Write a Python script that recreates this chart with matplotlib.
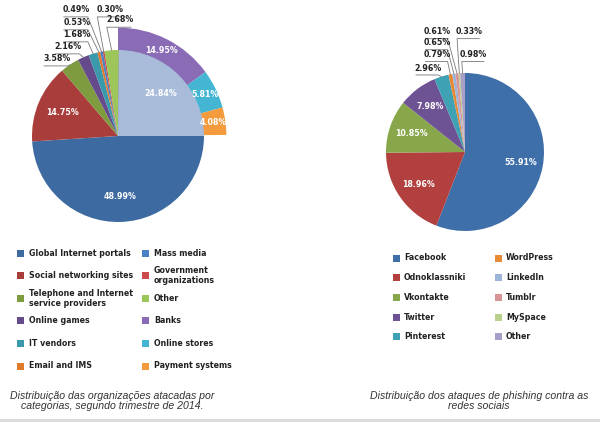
import numpy as np
import matplotlib.pyplot as plt
from matplotlib import font_manager
from matplotlib.patches import Rectangle

# left chart: attacked organizations by category
org_labels = ['Global Internet portals', 'Social networking sites',
              'Telephone and Internet\nservice providers', 'Online games',
              'IT vendors', 'Email and IMS', 'Mass media',
              'Government\norganizations', 'Other', 'Banks',
              'Online stores', 'Payment systems']
org_main = [48.99, 14.75, 3.58, 2.16, 1.68, 0.53, 0.49, 0.30, 2.68, 24.84]
org_outer = [14.95, 5.81, 4.08]
org_colors = ['#3d6aa1', '#a83d3b', '#7f9b40', '#654b8c', '#3a9aac', '#e07a2b',
              '#4a80c4', '#c94b4b', '#9cc55a', '#8a6cb6', '#44b5d2', '#f39b3d']
sum_color = '#a8bcda'

# right chart: phishing on social networks
soc_labels = ['Facebook', 'Odnoklassniki', 'Vkontakte', 'Twitter', 'Pinterest',
              'WordPress', 'LinkedIn', 'Tumblr', 'MySpace', 'Other']
soc_values = [55.91, 18.96, 10.85, 7.98, 2.96, 0.79, 0.65, 0.61, 0.33, 0.98]
soc_colors = ['#3f6fa8', '#b1403e', '#88a64a', '#6d5294', '#3fa1b4',
              '#e68a36', '#9cb4da', '#d89598', '#b9d18d', '#a89fc9']

caption_left = 'Distribuição das organizações atacadas por\ncategorias, segundo trimestre de 2014.'
caption_right = 'Distribuição dos ataques de phishing contra as\nredes sociais'

# pick a narrow font if one is around
fonts = font_manager.fontManager.ttflist
names = {f.name for f in fonts}
stretch = 'normal'
if 'Liberation Sans Narrow' in names:
    narrow, fs = 'Liberation Sans Narrow', 7
elif any(f.name == 'DejaVu Sans' and 'condensed' in str(f.stretch) for f in fonts):
    narrow, fs, stretch = 'DejaVu Sans', 6.3, 'condensed'
else:
    narrow, fs = 'Liberation Sans', 6.2

fig = plt.figure(figsize=(6, 4.22), dpi=100)
W, H = 600, 422


def fx(x):
    return x / W


def fy(y):
    return 1 - y / H


def pct_fmt(total):
    # show the printed value, not the renormalised share
    return lambda p: f'{p * total / 100:.2f}%'


def pie_axes(cx, cy, hw, hh):
    ax = fig.add_axes([fx(cx - hw), fy(cy + hh), 2 * hw / W, 2 * hh / H])
    ax.axis('off')
    return ax


def fix_limits(ax, r, hw, hh):
    # pie() resets the limits, so set them afterwards
    ax.set_xlim(-hw / r, hw / r)
    ax.set_ylim(-hh / r, hh / r)
    ax.set_aspect('equal')


def small_labels(ax, wedges, idx, pos, vals):
    for i, (tx, ty) in zip(idx, pos):
        w = wedges[i]
        mid = np.deg2rad((w.theta1 + w.theta2) / 2)
        px, py = np.cos(mid) * w.r, np.sin(mid) * w.r
        ax.text(tx, ty, f'{vals[i]:.2f}%', ha='center', va='center',
                fontsize=fs, fontweight='bold', color='#222222', family=narrow,
                fontstretch=stretch)
        uy = ty - 0.085
        x0, x1 = tx - 0.15, tx + 0.13
        if px > tx:
            ax.plot([x0, x1, px], [uy, uy, py], color='#777777', lw=0.6)
        else:
            ax.plot([x1, x0, px], [uy, uy, py], color='#777777', lw=0.6)


inner_txt = dict(color='white', fontsize=fs, fontweight='bold', family=narrow,
                 fontstretch=stretch)

# ---- left pie
ax1 = pie_axes(118, 136, 118, 136)
ax1.pie(np.array(org_outer) / 100, normalize=False, startangle=90,
        counterclock=False, radius=1.26, colors=org_colors[9:],
        autopct='%.2f%%', pctdistance=0.89, textprops=inner_txt)
w1, _, t1 = ax1.pie(org_main, startangle=0, counterclock=False, radius=1.0,
                    colors=org_colors[:9] + [sum_color],
                    autopct=pct_fmt(sum(org_main)), pctdistance=0.7,
                    textprops=inner_txt)
for i, t in enumerate(t1):
    if i not in (0, 1, 9):
        t.set_visible(False)
fix_limits(ax1, 86, 118, 136)
small_labels(ax1, w1, [2, 3, 4, 5, 6, 7, 8],
             [(-0.71, 0.90), (-0.58, 1.04), (-0.48, 1.18), (-0.48, 1.32),
              (-0.48, 1.47), (-0.09, 1.47), (0.02, 1.35)], org_main)

# ---- right pie
ax2 = pie_axes(465, 152, 110, 140)
w2, _, t2 = ax2.pie(soc_values, startangle=90, counterclock=False, radius=1.0,
                    colors=soc_colors, autopct=pct_fmt(sum(soc_values)),
                    pctdistance=0.72, textprops=inner_txt)
for i, t in enumerate(t2):
    if i > 3:
        t.set_visible(False)
fix_limits(ax2, 79, 110, 140)
small_labels(ax2, w2, [4, 5, 6, 7, 8, 9],
             [(-0.47, 1.06), (-0.35, 1.23), (-0.35, 1.38), (-0.35, 1.52),
              (0.05, 1.52), (0.11, 1.23)], soc_values)


# ---- legends
def legend(labels, colors, cols, y0, dy, nrow):
    for i, (lab, col) in enumerate(zip(labels, colors)):
        sx, tx = cols[i // nrow]
        y = y0 + (i % nrow) * dy
        fig.add_artist(Rectangle((fx(sx), fy(y + 3.5)), 7 / W, 7 / H,
                                 transform=fig.transFigure, color=col, lw=0))
        fig.text(fx(tx), fy(y), lab, ha='left', va='center', fontsize=fs,
                 fontweight='bold', color='#222222', family=narrow,
                 fontstretch=stretch, linespacing=1.15)


legend(org_labels, org_colors, [(17, 29), (142, 154)], 253, 22.6, 6)
legend(soc_labels, soc_colors, [(393, 404), (495, 506)], 258, 19.7, 5)

fig.text(fx(112), fy(401), caption_left, ha='center', va='center', fontsize=7.6,
         style='italic', color='#333333', family='Liberation Sans', linespacing=1.1)
fig.text(fx(479), fy(401), caption_right, ha='center', va='center', fontsize=7.6,
         style='italic', color='#333333', family='Liberation Sans', linespacing=1.1)
fig.add_artist(Rectangle((0, 0), 1, 3.5 / H, transform=fig.transFigure,
                         color='#dcdcdc', lw=0))

fig.savefig('out.png', dpi=100)
